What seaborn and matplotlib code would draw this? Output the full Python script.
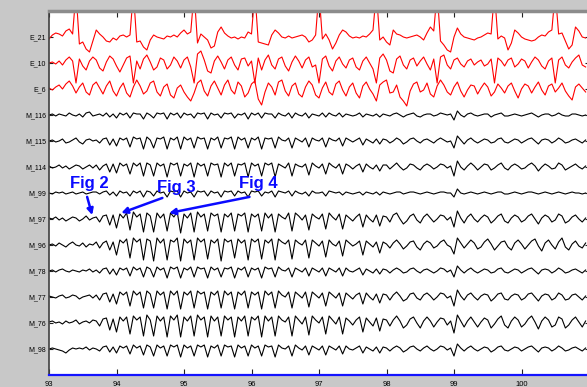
import numpy as np
import pandas as pd
import matplotlib
matplotlib.use("Agg")
import matplotlib.pyplot as plt
import seaborn as sns

plt.rcParams['font.family'] = ['Liberation Sans', 'DejaVu Sans']

# channel names, top to bottom
channels = ['E_21', 'E_10', 'E_6', 'M_116', 'M_115', 'M_114', 'M_99',
            'M_97', 'M_96', 'M_78', 'M_77', 'M_76', 'M_98']

# sampling of the traces (seconds)
t_start = 93.0
fs = 20
x_ticks = [93, 94, 95, 96, 97, 98, 99, 100]

# trace values, in pixels (up = positive)
e21 = [-2, 2, 4, 3, 1, 6, 8, 3, 45, -7, -5, -12, -15, -4, 7, 3, 0, -4, -5, -1,
       -3, 1, 2, 0, 2, 45, -5, -4, -10, -13, -3, 2, 0, -1, -2, 1, 0, 2, 0, 4,
       7, 3, 5, 45, -6, 3, 0, -3, -11, -9, 5, 10, 4, 1, -1, 0, -2, 0, -1, 5,
       3, 45, -5, -6, -7, -8, 2, 7, 4, 0, -1, 1, -1, 0, 1, 2, 0, -5, -3, 2,
       45, -2, 3, -3, -12, -6, 2, 7, 5, 1, -1, 0, -1, 1, 0, 3, 7, 45, -3, 0,
       -5, -8, 7, 3, 2, 0, -1, 0, 1, 2, 0, -3, 4, 10, 6, 45, -4, -8, -13, -15,
       0, 9, 3, 0, -1, -2, -3, -1, 0, 2, 4, 3, 45, -2, 1, -1, -13, -6, 7, 4,
       0, -2, -3, -4, -3, 0, 2, 1, 5, 7, 45, 3, 4, -4, -12, -8, 10, 6, 0, -1]
e10 = [0, 1, -1, 2, -2, 3, 6, 2, -20, 4, -3, -7, 2, 6, 3, -5, -8, 1, 7, 4,
       -3, -9, -2, 5, 7, -20, 2, -6, 4, 8, 1, -7, -4, 5, 3, -6, -2, 6, 2, -5,
       3, 6, -4, -20, 9, 12, 3, -8, -10, 2, 7, 1, -6, 3, 6, -2, -7, 4, 5, -3,
       2, -20, 5, -7, 3, 8, -2, -6, 4, 6, -3, -8, 1, 7, 2, -5, 3, 6, -4, -2,
       -20, 4, 7, -3, -8, 2, 6, -1, -5, 3, 5, -4, -7, 2, 6, 0, -6, -20, 5, 9,
       3, -8, -10, 4, 7, -2, -6, 3, 5, -3, 2, 6, -1, -7, 4, -20, 6, 8, -2, -6,
       3, 5, -1, -4, 2, 4, -2, 1, 3, -3, -1, 4, -20, 5, 2, -3, 3, 5, -4, -1,
       4, 2, -5, 1, 6, 3, -3, -6, 2, 5, -20, 3, 6, -2, -5, 1, 5, 8, -2, -4]
e6 = [1, -1, 2, 4, 0, 5, 8, 3, -4, 2, 6, -3, -6, 4, 7, 1, -5, 3, 8, -2,
      -7, 1, 6, -4, -8, 2, 9, 3, -5, -2, 6, 8, -3, -7, 2, 5, -6, -9, 1, 4,
      -3, -8, -12, -4, 6, 9, -2, -7, 3, 8, 1, -6, 4, 9, -1, -5, 7, 3, -8, -4,
      5, 8, -10, -16, -3, 6, 2, -6, 7, 9, -2, -7, 3, 6, -5, -8, 2, 8, 4, -6,
      -9, 1, 7, -3, -6, 5, 8, -1, -7, 2, 6, -4, -9, 3, 7, 0, -5, -12, 4, 7,
      9, -4, -3, 4, -8, -12, -17, -2, 5, 7, -3, -1, 6, -5, -8, 3, 9, 4, -3, -6,
      2, 7, -2, -8, -1, 4, 3, -5, 1, 6, 2, -7, -3, 5, 1, -4, 3, 6, -2, -9,
      0, 5, 3, -4, 2, 7, -1, -6, 3, 5, -3, 1, 6, -2, -7, -11, 2, 5, 1, -3]
m116 = [0, 1, -1, 1, 0, -1, 2, 0, -1, 1, -2, 2, 3, -1, 0, 1, -1, 2, -2, 1,
        -3, 2, 0, 2, -3, 2, 1, 1, -4, 2, 0, -3, 2, 1, 2, -4, 2, 0, 2, -3,
        2, 0, 1, -3, 2, 1, 2, -4, 2, 0, 1, -3, 2, 1, 2, -3, 1, 0, 2, -4,
        2, 0, 2, -3, 2, 1, 1, -3, 2, 0, -1, 2, -3, 2, 0, -1, 2, -3, 1, 0,
        -1, 2, -2, 2, 0, -1, 2, -2, 1, 0, -1, 0, 2, -2, 1, 0, -1, 1, -2, 1,
        0, -1, 1, 2, 0, -2, 0, 1, 2, -1, -2, 0, 1, 1, -1, 0, 2, 1, 0, 1,
        -5, 4, 0, -2, 1, 2, 0, -1, 0, 1, 1, -2, 0, 1, 2, -1, -1, 0, 1, 0,
        -1, 0, 1, 2, 0, -2, 0, 1, 1, -1, 0, 2, 0, -1, -1, 1, 1, 0, -1, 0]
m115 = [0, 1, -1, 0, 2, -2, -1, 1, 3, -1, -3, 1, 2, 0, 1, -2, 2, 3, -4, 2,
        -5, 3, 1, 3, -6, 4, 2, 3, -8, 4, 1, -7, 3, 2, 4, -8, 3, 1, 4, -8,
        4, 1, 3, -7, 4, 2, 3, -8, 3, 1, 4, -7, 3, 2, 4, -8, 4, 1, 3, -7,
        3, 1, 4, -8, 3, 2, 3, -7, 4, 1, 0, 3, -7, 3, 1, -1, 3, -6, 3, 1,
        0, 3, -6, 3, 1, 0, 3, -5, 3, 1, -1, 1, 3, -4, 2, 0, -2, 2, -3, 2,
        1, -2, 0, 3, 1, -3, -1, 2, 3, 0, -2, 1, 2, 0, -2, 1, 3, 1, -1, 0,
        -7, 5, 1, -3, 1, 3, 0, -2, 0, 2, 1, -2, -1, 2, 3, -1, -2, 0, 2, 1,
        -2, 0, 2, 3, 0, -3, 1, 2, 1, -2, 0, 3, 1, -2, -1, 1, 2, 0, -2, 1]
m114 = [1, -1, 0, 2, -1, 1, -2, 0, 2, 1, -2, 0, 2, -1, 2, -3, 1, 3, -5, 3,
        -6, 4, 1, 3, -7, 4, 1, 4, -9, 4, 2, -9, 4, 1, 3, -10, 4, 2, 4, -9,
        3, 1, 4, -10, 4, 1, 3, -9, 4, 2, 3, -10, 4, 1, 4, -9, 3, 2, 4, -10,
        4, 1, 3, -9, 4, 2, 4, -10, 3, 1, -1, 4, -9, 3, 1, 0, 3, -8, 4, 1,
        -1, 3, -7, 4, 1, -1, 3, -7, 3, 1, -2, 1, 3, -5, 3, 0, -2, 2, -4, 2,
        2, -2, 1, 4, 0, -3, -1, 3, 2, -1, -3, 1, 3, 1, -2, 0, 3, 2, -1, 1,
        -9, 6, 0, -3, 1, 4, 1, -3, 0, 3, 2, -3, -1, 2, 4, -1, -3, 1, 3, 1,
        -2, -1, 2, 4, 1, -4, 0, 3, 1, -2, -1, 4, 2, -3, -1, 1, 3, 0, -2, 1]
m99 = [0, -1, 1, 0, 1, -1, 0, 1, -1, 0, 1, -1, 0, 1, 1, -1, 1, 2, -2, 1,
       -3, 2, 0, 1, -3, 2, 0, 2, -4, 2, 1, -3, 2, 0, 1, -4, 2, 1, 2, -4,
       2, 0, 1, -4, 2, 1, 2, -3, 2, 0, 1, -4, 2, 1, 2, -3, 2, 0, 1, -4,
       2, 1, 2, -3, 1, 0, 2, -4, 2, 1, 0, 2, -3, 2, 0, -1, 1, -3, 2, 0,
       0, 1, -3, 2, 1, 0, 1, -2, 1, 0, -1, 0, 1, -2, 1, 0, -1, 1, -2, 1,
       0, -1, 0, 1, 1, -1, 0, 1, 1, 0, -1, 0, 1, 0, -1, 0, 1, 1, 0, 0,
       -4, 4, 0, -1, 0, 1, 0, -1, 0, 1, 0, -1, 0, 1, 1, -1, -1, 0, 1, 0,
       -1, 0, 1, 1, 0, -1, 0, 1, 0, -1, 0, 1, 0, -1, 0, 1, 0, 0, -1, 0]
m97 = [1, 0, 2, -1, 1, -2, 0, 2, 1, -2, 0, 3, -1, 1, 2, -3, 3, 4, -6, 4,
       -9, 5, 1, 6, -11, 7, 2, 5, -13, 6, 3, -13, 6, 1, 5, -12, 6, 2, 7, -14,
       5, 1, 6, -13, 7, 2, 5, -12, 6, 3, 5, -13, 5, 2, 6, -12, 5, 3, 6, -13,
       5, 2, 5, -12, 6, 1, 5, -13, 5, 2, 0, 6, -12, 6, 3, -1, 4, -11, 5, 2,
       0, 5, -10, 6, 2, -1, 5, -10, 4, 1, -2, 2, 5, -8, 4, 0, -3, 4, -7, 3,
       2, -3, 4, 6, 0, -5, -2, 3, 5, -1, -4, 2, 5, 1, -3, 0, 4, 3, -1, 2,
       -8, 8, 1, -4, 2, 5, 0, -3, 1, 4, 2, -4, -1, 3, 5, -2, -4, 1, 4, 2,
       -3, -1, 3, 5, 0, -5, 1, 4, 2, -3, -1, 5, 3, -4, -2, 2, 4, 0, -3, 1]
m96 = [0, 1, -1, 2, 0, -2, 1, 3, 0, -1, 2, -2, 1, 0, 3, -3, 2, 4, -5, 3,
       -10, 5, 2, 6, -13, 7, 3, 6, -15, 6, 4, -16, 7, 2, 6, -15, 5, 3, 7, -16,
       6, 2, 5, -15, 7, 3, 6, -14, 5, 2, 6, -16, 6, 3, 5, -13, 6, 2, 5, -15,
       6, 3, 6, -14, 5, 2, 6, -15, 6, 3, 1, 5, -14, 5, 2, 0, 5, -13, 5, 2,
       -1, 4, -12, 5, 1, -1, 4, -11, 5, 2, -1, 1, 4, -10, 4, 1, -2, 3, -8, 3,
       1, -3, 2, 5, 1, -4, -1, 3, 4, -2, -5, 1, 4, 2, -3, -1, 3, 5, 0, -2,
       -9, 7, 2, -3, 1, 5, 2, -4, -2, 3, 6, 1, -5, -1, 3, 4, -2, -5, 2, 5,
       1, -4, 0, 4, 6, -1, -6, 2, 5, 0, -4, 3, 7, -2, -5, 1, 4, -1, -3, 2]
m78 = [0, 1, -1, 1, 2, 0, -1, 1, 0, -1, 1, 0, 2, -1, 1, -2, 2, 3, -3, 2,
       -4, 3, 1, 3, -5, 4, 1, 3, -6, 4, 2, -6, 4, 1, 3, -7, 4, 2, 4, -7,
       3, 1, 4, -6, 4, 2, 3, -7, 4, 1, 3, -6, 3, 2, 4, -7, 3, 1, 4, -6,
       3, 1, 3, -7, 4, 2, 3, -6, 4, 1, 0, 3, -6, 3, 1, -1, 3, -5, 3, 1,
       -1, 3, -5, 3, 1, -1, 3, -5, 3, 0, -1, 1, 3, -4, 2, 0, -2, 2, -3, 2,
       1, -2, 1, 3, 1, -2, -1, 2, 3, 0, -2, 1, 2, 0, -2, 0, 3, 2, -1, 1,
       -6, 5, 1, -2, 1, 3, 0, -2, 0, 2, 1, -2, -1, 2, 3, -1, -2, 0, 2, 1,
       -2, 0, 2, 3, 0, -3, 1, 2, 1, -2, 0, 3, 1, -2, -1, 1, 2, 0, -2, 1]
m77 = [1, 0, -1, 1, 2, -1, 0, 2, 1, -2, 0, 1, 2, -1, 2, -3, 3, 4, -5, 3,
       -7, 5, 2, 5, -9, 6, 2, 5, -11, 6, 3, -11, 6, 2, 5, -12, 6, 2, 6, -12,
       5, 2, 6, -11, 6, 3, 5, -12, 5, 2, 6, -11, 6, 2, 5, -12, 5, 2, 6, -11,
       5, 2, 5, -12, 6, 2, 5, -11, 6, 2, 0, 5, -11, 5, 2, -1, 5, -10, 5, 2,
       -1, 4, -9, 5, 2, -1, 4, -9, 4, 1, -2, 2, 4, -7, 4, 0, -3, 3, -6, 3,
       2, -3, 2, 5, 1, -4, -2, 3, 4, -1, -3, 2, 4, 1, -3, 0, 4, 3, -1, 1,
       -9, 7, 1, -3, 2, 4, 0, -3, 1, 3, 2, -4, -1, 3, 4, -2, -3, 1, 3, 2,
       -3, -1, 3, 4, 0, -4, 1, 3, 2, -3, -1, 4, 2, -3, -2, 2, 3, 0, -3, 1]
m76 = [1, 2, 0, 1, -1, 2, 0, 1, 3, -1, 1, 2, 0, 3, 2, -3, 4, 5, -7, 4,
       -9, 6, 2, 6, -11, 7, 3, 6, -13, 8, 3, -13, 7, 2, 6, -14, 7, 3, 8, -14,
       6, 2, 7, -13, 8, 3, 6, -14, 7, 2, 6, -13, 7, 3, 6, -14, 6, 2, 7, -13,
       6, 3, 7, -14, 7, 2, 6, -13, 7, 3, 1, 6, -13, 7, 3, -1, 6, -12, 7, 3,
       0, 6, -11, 7, 3, -1, 6, -11, 5, 2, -2, 3, 6, -9, 5, 1, -3, 5, -8, 4,
       3, -3, 3, 7, 2, -5, -2, 4, 6, 0, -5, 2, 6, 2, -4, 1, 5, 4, -2, 2,
       -10, 8, 2, -4, 2, 6, 1, -4, 1, 5, 3, -5, -1, 4, 7, -2, -5, 2, 6, 3,
       -4, -1, 4, 7, 1, -6, 2, 6, 3, -4, -2, 6, 4, -5, -2, 3, 6, 1, -4, 2]
m98 = [0, 1, 0, -1, -2, -4, -1, 1, 0, 1, 0, 2, -1, 1, 0, -2, 2, 3, -3, 2,
       -4, 3, 1, 3, -5, 4, 1, 3, -6, 4, 2, -7, 4, 1, 3, -7, 4, 2, 4, -8,
       4, 1, 3, -7, 4, 2, 4, -8, 3, 1, 4, -7, 4, 2, 3, -8, 4, 1, 3, -7,
       4, 1, 3, -7, 4, 2, 3, -8, 4, 1, 0, 3, -7, 4, 1, -1, 3, -6, 3, 1,
       -1, 3, -6, 3, 1, -1, 3, -5, 3, 0, -1, 1, 3, -4, 2, 0, -2, 2, -4, 2,
       1, -2, 1, 3, 1, -3, -1, 2, 3, 0, -2, 1, 3, 0, -2, 0, 3, 2, -1, 1,
       -7, 5, 1, -2, 1, 3, 0, -2, 0, 2, 1, -3, -1, 2, 3, -1, -2, 0, 2, 1,
       -2, 0, 2, 3, 0, -3, 1, 2, 1, -2, 0, 3, 1, -2, -1, 1, 2, 0, -2, 1]

traces = {'E_21': e21, 'E_10': e10, 'E_6': e6, 'M_116': m116, 'M_115': m115,
          'M_114': m114, 'M_99': m99, 'M_97': m97, 'M_96': m96, 'M_78': m78,
          'M_77': m77, 'M_76': m76, 'M_98': m98}

# annotations: label, text position, arrow tail, arrow head
notes = [('Fig 2', (93.59, 6.65), (93.565, 7.15), (93.64, 7.85)),
         ('Fig 3', (94.89, 6.77), (94.68, 7.19), (94.07, 7.77)),
         ('Fig 4', (96.10, 6.65), (95.97, 7.15), (94.78, 7.77))]

px_per_unit = 26.0  # vertical spacing of channels in pixels

frames = []
for k, name in enumerate(channels):
    vals = np.array(traces[name], dtype=float)
    t = t_start + np.arange(len(vals)) / fs
    frames.append(pd.DataFrame({'t': t, 'y': (k + 1) - vals / px_per_unit,
                                'channel': name}))
df = pd.concat(frames, ignore_index=True)

pal = {c: ('#ff0000' if c.startswith('E') else '#000000') for c in channels}

fig = plt.figure(figsize=(5.87, 3.87), dpi=100, facecolor='#c8c8c8')
ax = fig.add_axes([49 / 587, 12 / 387, 540 / 587, 364 / 387])
ax.set_facecolor('white')

sns.lineplot(data=df, x='t', y='y', hue='channel', palette=pal,
             estimator=None, legend=False, linewidth=0.8, ax=ax)

ax.set_xlim(93, 101)
ax.set_ylim(14, 0)
ax.set_xlabel('')
ax.set_ylabel('')
ax.set_xticks(x_ticks)
ax.set_xticklabels([str(v) for v in x_ticks])
ax.set_yticks(range(1, len(channels) + 1))
ax.set_yticklabels(channels)

ax.spines['top'].set_color('#8c8c8c')
ax.spines['top'].set_linewidth(2.5)
ax.spines['bottom'].set_color('#1414ff')
ax.spines['bottom'].set_linewidth(1.6)
ax.spines['left'].set_color('#404040')
ax.spines['left'].set_linewidth(1.2)
ax.spines['right'].set_color('#404040')

ax.tick_params(axis='x', direction='in', top=True, bottom=True, length=4,
               width=0.8, color='#202020', labelsize=5.5, pad=4)
ax.tick_params(axis='y', direction='in', left=True, right=True, length=3,
               width=0.8, color='#202020', labelsize=5, pad=2)

for label, txt_pos, tail, head in notes:
    ax.text(txt_pos[0], txt_pos[1], label, color='#0a0aff', fontsize=12,
            fontweight='bold', ha='center', va='center')
    ax.annotate('', xy=head, xytext=tail,
                arrowprops=dict(arrowstyle='-|>', color='#0a0aff', lw=1.8,
                                mutation_scale=9, shrinkA=0, shrinkB=0))

fig.savefig('out.png', dpi=100, facecolor=fig.get_facecolor())
